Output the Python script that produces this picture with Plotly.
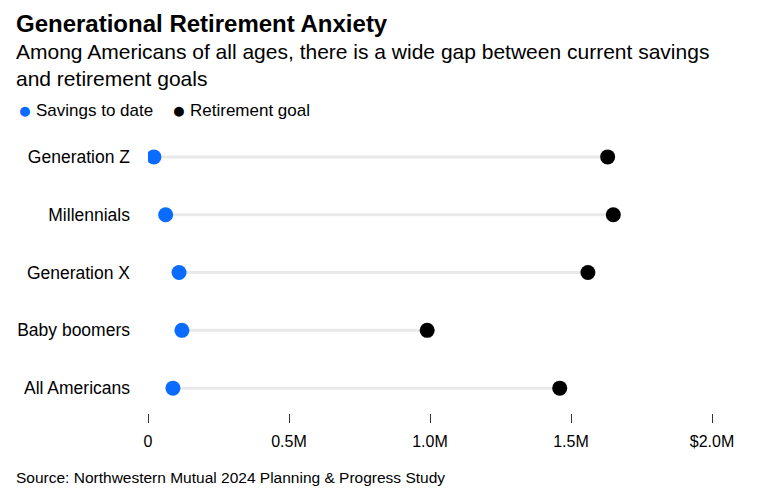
import plotly.graph_objects as go

categories = ["Generation Z", "Millennials", "Generation X", "Baby boomers", "All Americans"]
savings = [20900, 62600, 110000, 120300, 88400]
goals = [1630000, 1650000, 1560000, 990000, 1460000]
tick_vals = [0, 500000, 1000000, 1500000, 2000000]
tick_text = ["0", "0.5M", "1.0M", "1.5M", "$2.0M"]

FONT = "Liberation Sans"
BLUE = "#0a6cff"

# page has an 8px body margin; compensate
OFF = 8
W, H = 758 - OFF, 499 - OFF
L, R, T, B = 148 - OFF, 46, 128 - OFF, 86
PW, PH = W - L - R, H - T - B


def px(x):
    return (x - OFF - L) / PW


def py(y):
    return (H - B - (y - OFF)) / PH


line_x, line_y = [], []
for c, s, g in zip(categories, savings, goals):
    line_x += [s, g, None]
    line_y += [c, c, None]

fig = go.Figure()
fig.add_trace(go.Scatter(x=line_x, y=line_y, mode="lines",
                         line=dict(color="#e9e9e9", width=3),
                         hoverinfo="skip", showlegend=False))
fig.add_trace(go.Scatter(x=savings, y=categories, mode="markers", name="Savings to date",
                         marker=dict(color=BLUE, size=15), showlegend=False))
fig.add_trace(go.Scatter(x=goals, y=categories, mode="markers", name="Retirement goal",
                         marker=dict(color="#000000", size=15), showlegend=False))

fig.update_layout(
    width=W, height=H,
    paper_bgcolor="white", plot_bgcolor="white",
    margin=dict(l=L, r=R, t=T, b=B, autoexpand=False),
    font=dict(family=FONT, color="#000000"),
    xaxis=dict(range=[0, 2000000], tickvals=tick_vals, ticktext=tick_text,
               showgrid=False, zeroline=False, showline=False, automargin=False,
               ticks="outside", ticklen=9, tickwidth=1, tickcolor="#333333",
               tickfont=dict(size=16, family=FONT, color="#000000"),
               ticklabelstandoff=5),
    yaxis=dict(categoryorder="array", categoryarray=categories, automargin=False,
               range=[4.43, -0.5], showgrid=False, zeroline=False, showline=False,
               ticks="", tickfont=dict(size=17.5, family=FONT, color="#000000"),
               ticklabelstandoff=17),
)

anns = [
    dict(text="<b>Generational Retirement Anxiety</b>", x=14, y=OFF, size=24, color="#000000",
         anchor="left", yanchor="top"),
    dict(text="Among Americans of all ages, there is a wide gap between current savings<br>and retirement goals",
         x=14, y=65, size=21, color="#000000", anchor="left", yanchor="middle"),
    dict(text="●", x=25, y=110, size=23, color=BLUE, anchor="center", yanchor="middle"),
    dict(text="Savings to date", x=34, y=110, size=17, color="#000000", anchor="left", yanchor="middle"),
    dict(text="●", x=179, y=110, size=23, color="#000000", anchor="center", yanchor="middle"),
    dict(text="Retirement goal", x=188, y=110, size=17, color="#000000", anchor="left", yanchor="middle"),
    dict(text="Source: Northwestern Mutual 2024 Planning & Progress Study", x=14, y=477, size=15.5,
         color="#000000", anchor="left", yanchor="middle"),
]
for a in anns:
    fig.add_annotation(text=a["text"], xref="paper", yref="paper",
                       x=px(a["x"]), y=py(a["y"]),
                       xanchor=a["anchor"], yanchor=a["yanchor"], align="left", showarrow=False,
                       font=dict(size=a["size"], family=FONT, color=a["color"]))

fig.write_html("out.html")
